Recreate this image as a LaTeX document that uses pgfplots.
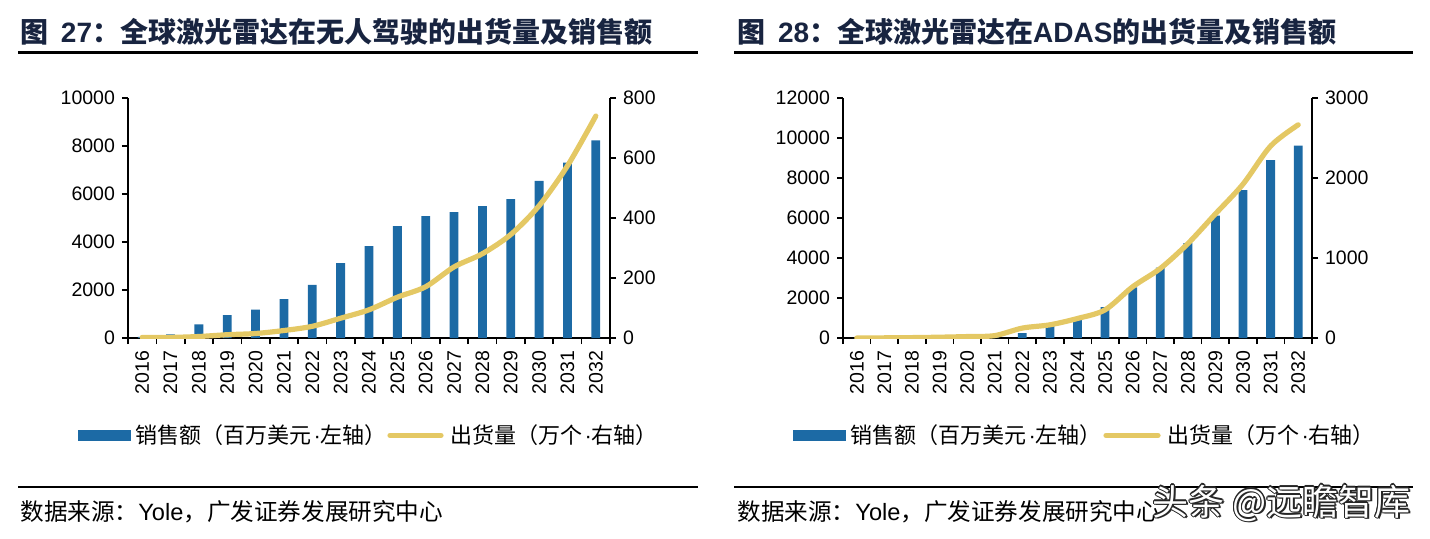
\documentclass[border=0pt]{standalone}
\usepackage{pgfplots}
\pgfplotsset{compat=1.18}
\usepackage{fontspec}
\setmainfont{Liberation Sans}
\newfontfamily\cjk{Noto Sans CJK SC}
\definecolor{barblue}{RGB}{28,106,165}
\definecolor{lineyel}{RGB}{228,200,100}
\definecolor{titlenavy}{RGB}{24,36,64}
\newcommand{\mdot}{{\rmfamily\hspace{0.1em}·}}

\pgfplotsset{
  base/.style={
    scale only axis, height=120pt,
    xmin=-0.5, xmax=16.5, ymin=0,
    scaled y ticks=false,
    tick align=outside, major tick length=3pt, minor tick length=3pt,
    axis line style={line width=0.8pt},
    every tick/.style={black, line width=0.8pt},
    tick label style={font=\fontsize{9.75}{11}\selectfont},
    /pgf/number format/assume math mode=true,
    /pgf/number format/1000 sep={},
  },
  leftax/.style={base, axis y line*=left, axis x line*=bottom,
    xtick={0,...,16},
    xticklabels={2016,2017,2018,2019,2020,2021,2022,2023,2024,2025,2026,2027,2028,2029,2030,2031,2032},
    xticklabel style={rotate=90, anchor=east},
    every major x tick/.append style={draw=none},
    minor xtick={-0.5,0.5,...,16.5},
  },
  rightax/.style={base, axis y line*=right, axis x line=none, xtick=\empty},
}

\begin{document}
\begin{tikzpicture}
\useasboundingbox (0,0) rectangle (715pt,269pt);

% ---------- Titles and rules ----------
\node[anchor=west, text=titlenavy, inner sep=0pt, font=\fontsize{14}{16}\selectfont] at (10pt,253pt)
  {{\cjk\bfseries 图}\hspace{0.45em}{\bfseries 27}{\cjk\bfseries ：全球激光雷达在无人驾驶的出货量及销售额}};
\node[anchor=west, text=titlenavy, inner sep=0pt, font=\fontsize{14}{16}\selectfont] at (368.5pt,253pt)
  {{\cjk\bfseries 图}\hspace{0.45em}{\bfseries 28}{\cjk\bfseries ：全球激光雷达在}{\bfseries ADAS}{\cjk\bfseries 的出货量及销售额}};
\draw[line width=1.5pt] (9pt,243pt) -- (349pt,243pt);
\draw[line width=1.5pt] (367pt,243pt) -- (706.5pt,243pt);
\draw[line width=1pt] (9pt,25.5pt) -- (349pt,25.5pt);
\draw[line width=1pt] (367pt,25.5pt) -- (706.5pt,25.5pt);

% ---------- Chart 1 ----------
\begin{axis}[leftax, at={(64pt,100pt)}, anchor=south west, width=241pt,
  ymax=10000, ytick={0,2000,4000,6000,8000,10000}]
\addplot[ybar, bar shift=0pt, bar width=4.4pt, fill=barblue, draw=none] coordinates {
(0,50) (1,150) (2,570) (3,955) (4,1180) (5,1620) (6,2215) (7,3125) (8,3825)
(9,4660) (10,5075) (11,5240) (12,5495) (13,5785) (14,6550) (15,7310) (16,8230)};
\end{axis}
\begin{axis}[rightax, at={(64pt,100pt)}, anchor=south west, width=241pt,
  ymax=800, ytick={0,200,400,600,800}]
\addplot[lineyel, line width=2.6pt, smooth, tension=0.5, line cap=round] coordinates {
(0,2) (1,2) (2,5) (3,11) (4,15) (5,25) (6,39) (7,66) (8,94)
(9,136) (10,171) (11,237) (12,281) (13,345) (14,441) (15,574) (16,740)};
\end{axis}

% ---------- Chart 2 ----------
\begin{axis}[leftax, at={(421.5pt,100pt)}, anchor=south west, width=234.5pt,
  ymax=12000, ytick={0,2000,4000,6000,8000,10000,12000}]
\addplot[ybar, bar shift=0pt, bar width=4.4pt, fill=barblue, draw=none] coordinates {
(0,0) (1,0) (2,0) (3,0) (4,0) (5,30) (6,250) (7,740) (8,1030)
(9,1550) (10,2530) (11,3525) (12,4750) (13,6120) (14,7400) (15,8890) (16,9615)};
\end{axis}
\begin{axis}[rightax, at={(421.5pt,100pt)}, anchor=south west, width=234.5pt,
  ymax=3000, ytick={0,1000,2000,3000}]
\addplot[lineyel, line width=2.6pt, smooth, tension=0.5, line cap=round] coordinates {
(0,0) (1,2) (2,5) (3,10) (4,18) (5,30) (6,124) (7,165) (8,244)
(9,352) (10,641) (11,869) (12,1180) (13,1552) (14,1924) (15,2400) (16,2665)};
\end{axis}

% ---------- Legends ----------
\fill[barblue] (39pt,48.5pt) rectangle (65.5pt,54pt);
\node[anchor=west, inner sep=0pt, font=\cjk\fontsize{11}{13}\selectfont] at (67.5pt,51.3pt) {销售额（百万美元\mdot 左轴）};
\draw[lineyel, line width=2.6pt, line cap=round] (195pt,51.3pt) -- (220.5pt,51.3pt);
\node[anchor=west, inner sep=0pt, font=\cjk\fontsize{11}{13}\selectfont] at (225pt,51.3pt) {出货量（万个\mdot 右轴）};

\fill[barblue] (396.5pt,48.5pt) rectangle (423pt,54pt);
\node[anchor=west, inner sep=0pt, font=\cjk\fontsize{11}{13}\selectfont] at (425pt,51.3pt) {销售额（百万美元\mdot 左轴）};
\draw[lineyel, line width=2.6pt, line cap=round] (553pt,51.3pt) -- (579pt,51.3pt);
\node[anchor=west, inner sep=0pt, font=\cjk\fontsize{11}{13}\selectfont] at (583.5pt,51.3pt) {出货量（万个\mdot 右轴）};

% ---------- Sources ----------
\node[anchor=west, inner sep=0pt, font=\fontsize{11.8}{13}\selectfont] at (10pt,13pt)
  {{\cjk 数据来源：}Yole{\cjk ，广发证券发展研究中心}};
\node[anchor=west, inner sep=0pt, font=\fontsize{11.8}{13}\selectfont] at (368.5pt,13pt)
  {{\cjk 数据来源：}Yole{\cjk ，广发证券发展研究中心}};

% ---------- Watermark ----------
\foreach \dx/\dy in {-0.6/0,0.6/0,0/-0.6,0/0.6,-0.45/-0.45,0.45/0.45,-0.45/0.45,0.45/-0.45,0.8/-0.8}{
  \node[anchor=west, inner sep=0pt, text=black!85, font=\cjk\fontsize{18}{20}\selectfont,
    xshift=\dx pt, yshift=\dy pt] at (576pt,17.5pt) {头条 @远瞻智库};
}
\node[anchor=west, inner sep=0pt, text=white, font=\cjk\fontsize{18}{20}\selectfont] at (576pt,17.5pt) {头条 @远瞻智库};
\end{tikzpicture}
\end{document}
